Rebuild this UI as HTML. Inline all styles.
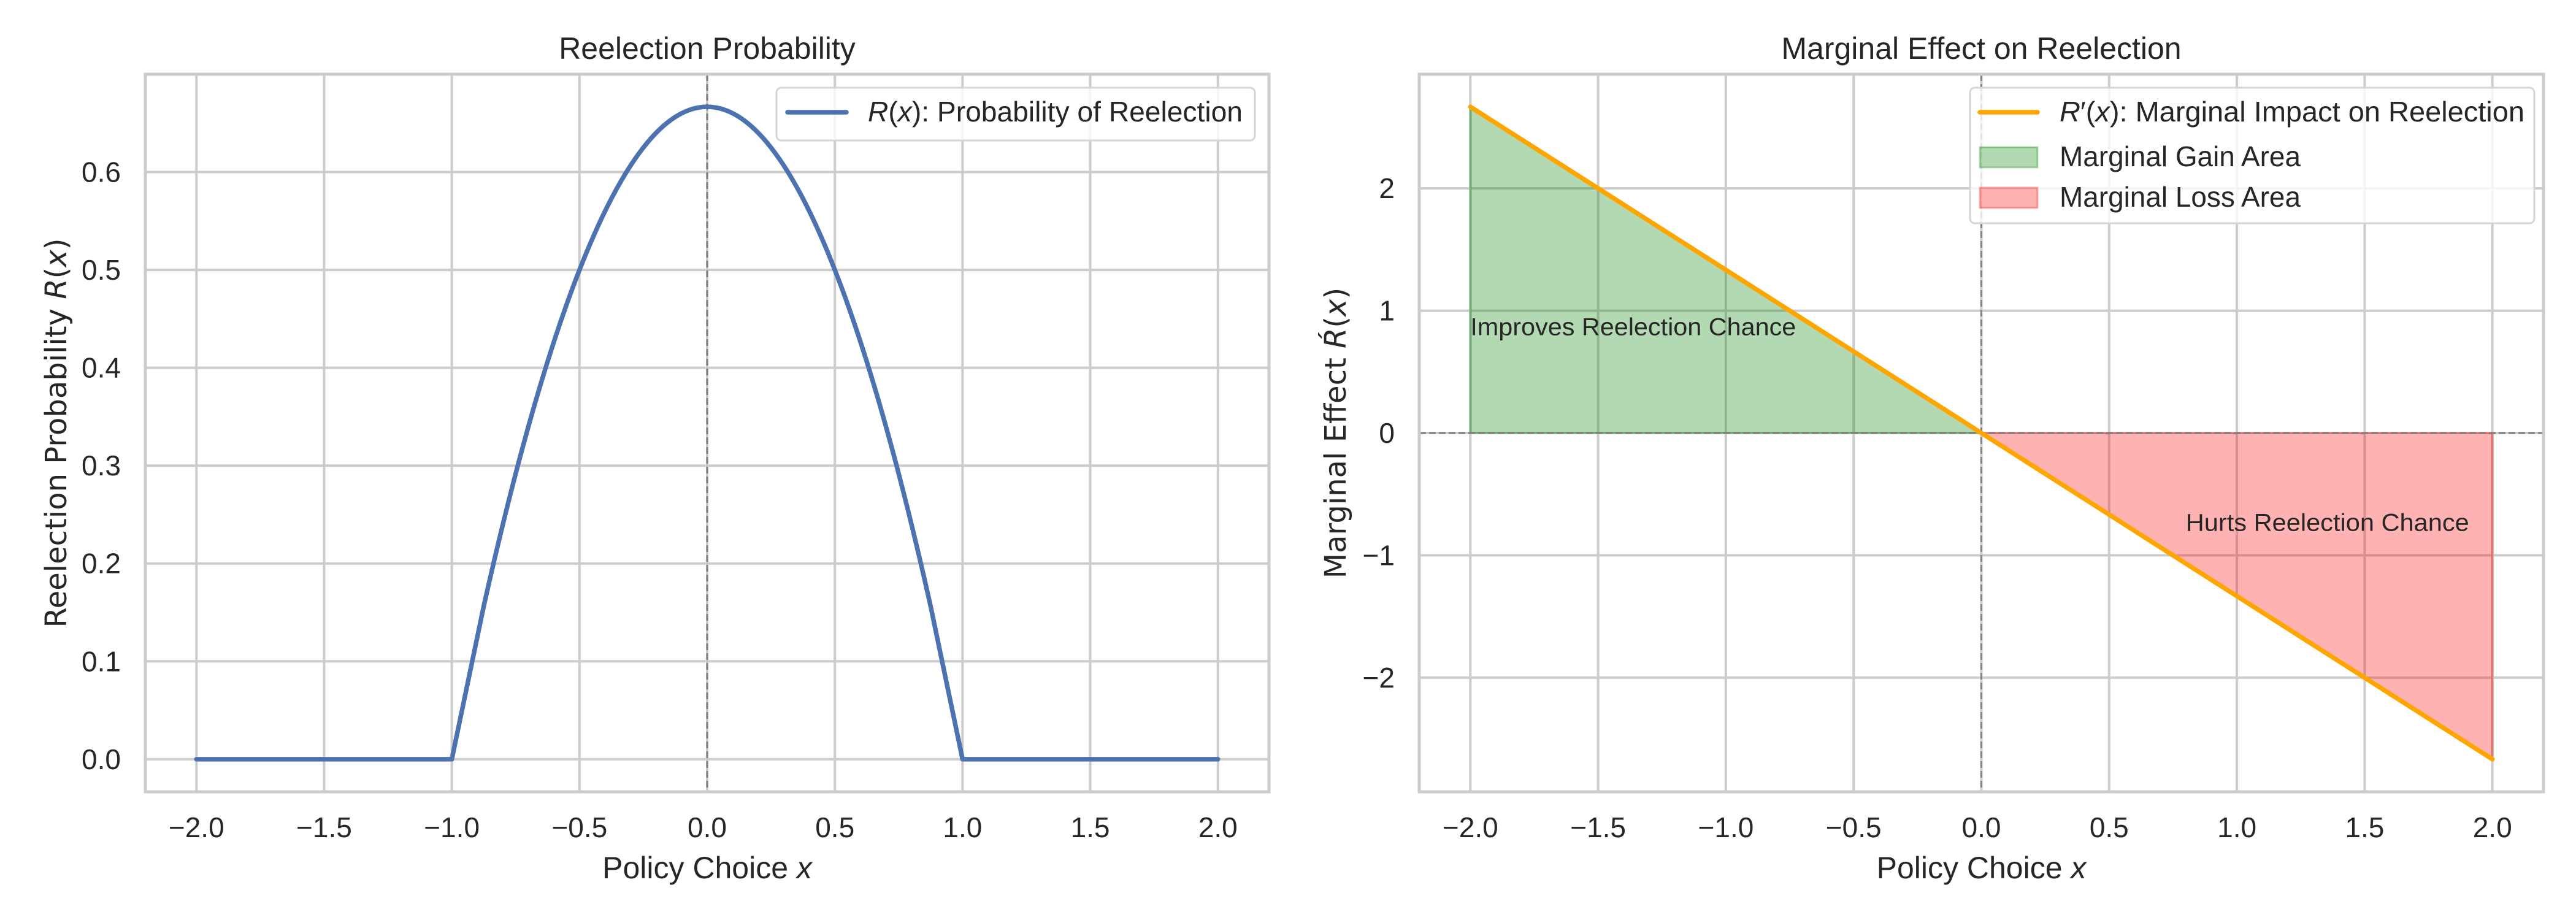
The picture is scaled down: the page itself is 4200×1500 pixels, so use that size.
<!DOCTYPE html>
<html><head><meta charset="utf-8"><style>
html,body{margin:0;padding:0;background:#fff;}
svg{display:block;}
text{font-family:"Liberation Sans",Arial,sans-serif;fill:#262626;}
.yl{font-family:"DejaVu Sans","Liberation Sans",sans-serif;}
</style></head><body>
<svg id="fig" width="4200" height="1500" viewBox="0 0 4200 1500" xmlns="http://www.w3.org/2000/svg">
<rect width="4200" height="1500" fill="#fff"/>
</svg>
<script>
// ---- Data: left chart (reelection probability) ----
const rX = [-2,-1.75,-1.5,-1.25,-1,-0.875,-0.75,-0.625,-0.5,-0.375,-0.25,-0.125,0,0.125,0.25,0.375,0.5,0.625,0.75,0.875,1,1.25,1.5,1.75,2];
const rY = [0,0,0,0,0,0.1563,0.2917,0.4063,0.5,0.5729,0.625,0.6563,0.6667,0.6563,0.625,0.5729,0.5,0.4063,0.2917,0.1563,0,0,0,0,0];
const leftYTicks = [0,0.1,0.2,0.3,0.4,0.5,0.6];
const leftYTickLabels = ["0.0","0.1","0.2","0.3","0.4","0.5","0.6"];
const xTicks = [-2,-1.5,-1,-0.5,0,0.5,1,1.5,2];
const xTickLabels = ["\u22122.0","\u22121.5","\u22121.0","\u22120.5","0.0","0.5","1.0","1.5","2.0"];
// ---- Data: right chart (marginal effect) ----
const mX = [-2,0,2];
const mY = [2.6667,0,-2.6667];
const rightYTicks = [-2,-1,0,1,2];
const rightYTickLabels = ["\u22122","\u22121","0","1","2"];

const NS = "http://www.w3.org/2000/svg";
const svg = document.getElementById('fig');
function el(tag, attrs, parent, txt){
  const e = document.createElementNS(NS, tag);
  for (const k in attrs) e.setAttribute(k, attrs[k]);
  if (txt !== undefined) e.textContent = txt;
  (parent||svg).appendChild(e);
  return e;
}
function makeAxes(L, T, R, B, xmin, xmax, ymin, ymax){
  return {
    L,T,R,B,
    sx: v => L + (v - xmin) / (xmax - xmin) * (R - L),
    sy: v => B - (v - ymin) / (ymax - ymin) * (B - T)
  };
}
function grid(ax, yt, ytl, g){
  xTicks.forEach((t,i)=>{
    const gl = el('line',{x1:ax.sx(t),x2:ax.sx(t),y1:ax.T,y2:ax.B,stroke:'#cccccc','stroke-width':4},g);
    
    
    const tl = el('text',{x:ax.sx(t),y:1365,'font-size':46,'text-anchor':'middle'},g,xTickLabels[i]);
    
    
  });
  yt.forEach((t,i)=>{
    const gl = el('line',{x1:ax.L,x2:ax.R,y1:ax.sy(t),y2:ax.sy(t),stroke:'#cccccc','stroke-width':4},g);
    
    
    const tl = el('text',{x:ax.L-40,y:ax.sy(t)+16,'font-size':46,'text-anchor':'end'},g,ytl[i]);
    
    
  });
}
function spines(ax, g){
  const s = el('rect',{x:ax.L,y:ax.T,width:ax.R-ax.L,height:ax.B-ax.T,fill:'none',stroke:'#cccccc','stroke-width':5},g);
  
  
}

// ===== Left chart =====
const gL = el('g',{});


const axL = makeAxes(237,121,2069,1291,-2.2,2.2,-0.03333,0.7);
grid(axL, leftYTicks, leftYTickLabels, gL);
const vL = el('line',{x1:axL.sx(0),x2:axL.sx(0),y1:axL.T,y2:axL.B,stroke:'#808080','stroke-width':3,'stroke-dasharray':'11,5'},gL);


// smooth line through data points (catmull-rom)
function smoothPath(xs, ys, ax){
  const p = xs.map((x,i)=>[ax.sx(x), ax.sy(ys[i])]);
  let d = 'M'+p[0][0]+','+p[0][1];
  for (let i=0;i<p.length-1;i++){
    const p0=p[Math.max(0,i-1)], p1=p[i], p2=p[i+1], p3=p[Math.min(p.length-1,i+2)];
    const flat = ys[i]===0 && ys[i+1]===0;
    if (flat || ys[i]===0 || ys[i+1]===0){ d += ' L'+p2[0]+','+p2[1]; continue; }
    const c1=[p1[0]+(p2[0]-p0[0])/6, p1[1]+(p2[1]-p0[1])/6];
    const c2=[p2[0]-(p3[0]-p1[0])/6, p2[1]-(p3[1]-p1[1])/6];
    d += ' C'+c1[0]+','+c1[1]+' '+c2[0]+','+c2[1]+' '+p2[0]+','+p2[1];
  }
  return d;
}
const rLine = el('path',{d:smoothPath(rX,rY,axL),fill:'none',stroke:'#4c72b0','stroke-width':7.5,'stroke-linecap':'round','stroke-linejoin':'round'},gL);


spines(axL,gL);
const tL = el('text',{x:(axL.L+axL.R)/2,y:96,'font-size':50,'text-anchor':'middle'},gL,'Reelection Probability');


const xlL = el('text',{x:(axL.L+axL.R)/2,y:1432,'font-size':50,'text-anchor':'middle'},gL);


xlL.innerHTML = 'Policy Choice <tspan font-style="italic">x</tspan>';
const ylL = el('text',{x:0,y:0,'font-size':48,'text-anchor':'middle',class:'yl',transform:'translate(108,706) rotate(-90)'},gL);


ylL.innerHTML = 'Reelection Probability <tspan font-style="italic">R</tspan>(<tspan font-style="italic">x</tspan>)';
// legend
const lgL = el('g',{},gL);


el('rect',{x:1266,y:143,width:780,height:86,rx:8,fill:'#fff','fill-opacity':0.8,stroke:'#d6d6d6','stroke-width':3},lgL);
el('line',{x1:1284,x2:1380,y1:183,y2:183,stroke:'#4c72b0','stroke-width':7.5,'stroke-linecap':'round'},lgL);
const lgLt = el('text',{x:1415,y:198,'font-size':46,textLength:611,lengthAdjust:'spacingAndGlyphs'},lgL);


lgLt.innerHTML = '<tspan font-style="italic">R</tspan>(<tspan font-style="italic">x</tspan>): Probability of Reelection';

// ===== Right chart =====
const gR = el('g',{});


const axR = makeAxes(2314,121,4147,1291,-2.2,2.2,-2.9333,2.9333);
grid(axR, rightYTicks, rightYTickLabels, gR);
// fills
const gainPts = [[mX[0],0],[mX[0],mY[0]],[mX[1],mY[1]]].map(p=>axR.sx(p[0])+','+axR.sy(p[1])).join(' ');
const gain = el('polygon',{points:gainPts,fill:'#008000','fill-opacity':0.3,stroke:'#008000','stroke-opacity':0.3,'stroke-width':4},gR);


const lossPts = [[mX[1],mY[1]],[mX[2],mY[2]],[mX[2],0]].map(p=>axR.sx(p[0])+','+axR.sy(p[1])).join(' ');
const loss = el('polygon',{points:lossPts,fill:'#ff0000','fill-opacity':0.3,stroke:'#ff0000','stroke-opacity':0.3,'stroke-width':4},gR);


const hR = el('line',{x1:axR.L,x2:axR.R,y1:axR.sy(0),y2:axR.sy(0),stroke:'#808080','stroke-width':3,'stroke-dasharray':'11,5'},gR);


const vR = el('line',{x1:axR.sx(0),x2:axR.sx(0),y1:axR.T,y2:axR.B,stroke:'#808080','stroke-width':3,'stroke-dasharray':'11,5'},gR);


const mLine = el('polyline',{points:mX.map((x,i)=>axR.sx(x)+','+axR.sy(mY[i])).join(' '),fill:'none',stroke:'#ffa500','stroke-width':7.5,'stroke-linecap':'round'},gR);


spines(axR,gR);
const a1 = el('text',{x:axR.sx(-2),y:axR.sy(0.8),'font-size':40,textLength:531,lengthAdjust:'spacingAndGlyphs'},gR,'Improves Reelection Chance');


const a2 = el('text',{x:axR.sx(0.8),y:axR.sy(-0.8),'font-size':40,textLength:462,lengthAdjust:'spacingAndGlyphs'},gR,'Hurts Reelection Chance');


const tR = el('text',{x:(axR.L+axR.R)/2,y:96,'font-size':50,'text-anchor':'middle'},gR,'Marginal Effect on Reelection');


const xlR = el('text',{x:(axR.L+axR.R)/2,y:1432,'font-size':50,'text-anchor':'middle'},gR);


xlR.innerHTML = 'Policy Choice <tspan font-style="italic">x</tspan>';
const ylR = el('text',{x:0,y:0,'font-size':48,'text-anchor':'middle',class:'yl',transform:'translate(2194,706) rotate(-90)'},gR);


ylR.innerHTML = 'Marginal Effect <tspan font-style="italic">R\u0301</tspan>(<tspan font-style="italic">x</tspan>)';
// legend
const lgR = el('g',{},gR);


el('rect',{x:3212,y:143,width:920,height:221,rx:8,fill:'#fff','fill-opacity':0.8,stroke:'#d6d6d6','stroke-width':3},lgR);
el('line',{x1:3228,x2:3322,y1:183,y2:183,stroke:'#ffa500','stroke-width':7.5,'stroke-linecap':'round'},lgR);
const e1 = el('text',{x:3358,y:198,'font-size':46,textLength:758,lengthAdjust:'spacingAndGlyphs'},lgR);


e1.innerHTML = '<tspan font-style="italic">R</tspan>\u2032(<tspan font-style="italic">x</tspan>): Marginal Impact on Reelection';
el('rect',{x:3228,y:240,width:94,height:33,fill:'#008000','fill-opacity':0.3,stroke:'#008000','stroke-opacity':0.3,'stroke-width':3},lgR);
const e2 = el('text',{x:3358,y:271,'font-size':46,textLength:393,lengthAdjust:'spacingAndGlyphs'},lgR,'Marginal Gain Area');


el('rect',{x:3228,y:306,width:94,height:33,fill:'#ff0000','fill-opacity':0.3,stroke:'#ff0000','stroke-opacity':0.3,'stroke-width':3},lgR);
const e3 = el('text',{x:3358,y:337,'font-size':46,textLength:393,lengthAdjust:'spacingAndGlyphs'},lgR,'Marginal Loss Area');


</script>
</body></html>
